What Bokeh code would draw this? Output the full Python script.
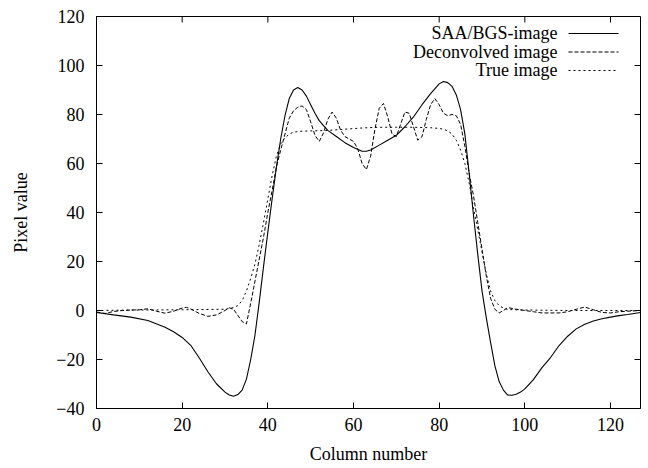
from bokeh.plotting import figure
from bokeh.models import Range1d, FixedTicker, Label
from bokeh.embed import file_html
from bokeh.resources import INLINE

# ---- data ----
saa_x = [0, 4, 8, 12, 16, 18, 20, 22, 24, 26, 28, 30, 31, 32, 33, 34, 35, 36, 37, 38,
         39, 40, 41, 42, 43, 44, 45, 46, 47, 48, 49, 50, 51, 52, 53, 54, 56, 58, 60, 62,
         63, 64, 66, 68, 70, 72, 74, 76, 78, 80, 81, 82, 83, 84, 85, 86, 87, 88, 89, 90,
         91, 92, 93, 94, 95, 96, 97, 98, 99, 100, 102, 104, 106, 108, 110, 112, 114, 116,
         118, 120, 122, 124, 127]
saa_y = [-0.8, -1.8, -2.7, -4.1, -6.8, -8.7, -11, -14.2, -19.4, -25, -29.9, -33.3, -34.5,
         -35, -34.3, -32.5, -28, -20, -10, 3.5, 18, 32, 45.5, 58.5, 70, 79.5, 86.5, 90, 91,
         90, 87.5, 84, 80.5, 77.5, 75.5, 73.5, 71, 68.5, 66.5, 65, 65, 65.5, 67.5, 69.5,
         71.5, 75, 79, 84, 88.5, 92.5, 93.5, 93, 91.5, 88, 82, 72, 56, 39, 23, 8, -3, -13,
         -22.5, -29, -32.5, -34.5, -34.6, -34.2, -33.3, -32, -28.2, -23.3, -19.2, -14.3,
         -10.5, -7.5, -5.6, -4.3, -3.4, -2.7, -2.1, -1.6, -0.8]

dec_x = [0, 2, 4, 6, 8, 10, 12, 14, 16, 18, 20, 21, 22, 24, 26, 28, 30, 31, 32, 33, 34,
         35, 36, 37, 38, 39, 40, 41, 42, 43, 44, 45, 46, 47, 48, 49, 50, 51, 52, 53, 54,
         55, 56, 57, 58, 59, 60, 61, 62, 63, 64, 65, 66, 67, 68, 69, 70, 71, 72, 73, 74,
         75, 76, 77, 78, 79, 80, 81, 82, 83, 84, 85, 86, 87, 88, 89, 90, 91, 92, 93, 94,
         95, 96, 98, 100, 102, 104, 106, 108, 110, 112, 114, 116, 118, 120, 122, 124, 127]
dec_y = [-0.6, -1.2, -0.4, 0, 0.2, 0.3, 0.7, -0.3, -1.1, -0.3, 1.0, 1.3, 0.6, -1.2, -2.4,
         -1.8, 0, 1.1, 0.5, -2, -4.5, -5.5, 3, 12, 21, 30, 40, 49, 58.5, 65.5, 72, 78.5,
         81.5, 83, 83.5, 82, 77, 71.5, 69, 72.5, 78, 81, 78.5, 73.5, 71, 70, 69, 66, 60,
         57.5, 63, 74, 82.5, 84.5, 79, 72, 71, 76, 81, 80.5, 75, 69.5, 71, 78, 84, 86.5,
         84, 80.5, 79.5, 80, 79.5, 76, 67, 56, 47, 36, 25, 14, 5, 0.5, -1.0, 0, 1.2, 0.5,
         0, -0.5, -1, -1, -1, -0.5, 0.5, 1.4, 0.3, -0.8, -1, -0.5, -0.3, 0]

true_x = [0, 10, 20, 30, 32, 33, 34, 35, 36, 37, 38, 39, 40, 41, 42, 43, 44, 45, 46, 48,
          50, 54, 58, 62, 66, 70, 74, 78, 80, 81, 82, 83, 84, 85, 86, 87, 88, 89, 90, 91,
          92, 93, 94, 95, 96, 100, 110, 127]
true_y = [0, 0.2, 0.3, 0.5, 1.2, 2, 4, 8, 13, 19, 27, 36, 45.5, 55, 63, 68, 70.5, 72,
          72.8, 73.2, 73.3, 73.5, 74, 74.5, 74.8, 74.8, 74.8, 74.6, 74.3, 74, 73.3, 72,
          69.5, 65.5, 60, 52, 42, 33, 24, 15, 8, 4, 2, 1, 0.4, 0.2, 0, 0]

series_labels = ["SAA/BGS-image", "Deconvolved image", "True image"]
x_ticks = [0, 20, 40, 60, 80, 100, 120]
y_ticks = [-40, -20, 0, 20, 40, 60, 80, 100, 120]

FONT = "Liberation Serif"
FS = "18px"
DASH = "4 2"
DOT = "2 3"

XMIN, XMAX, YMIN, YMAX = 0, 127, -40, 120
FRAME_W, FRAME_H = 544, 392
p = figure(width=648, height=468, output_backend="svg", toolbar_location=None,
           x_range=Range1d(XMIN, XMAX), y_range=Range1d(YMIN, YMAX),
           min_border_left=96, min_border_right=8, min_border_top=16,
           min_border_bottom=60)
p.grid.visible = False
p.outline_line_color = "black"
p.outline_line_width = 1
p.background_fill_color = "white"
p.border_fill_color = "white"

for ax in p.xaxis:
    ax.ticker = FixedTicker(ticks=x_ticks)
    ax.axis_label = "Column number"
    ax.major_label_standoff = 9
    ax.axis_label_standoff = 10
for ax in p.yaxis:
    ax.ticker = FixedTicker(ticks=y_ticks)
    ax.axis_label = "Pixel value"
    ax.major_label_standoff = 12
    ax.axis_label_standoff = 22
for ax in list(p.xaxis) + list(p.yaxis):
    ax.major_tick_in = 6
    ax.major_tick_out = 0
    ax.minor_tick_line_color = None
    ax.axis_line_color = "black"
    ax.major_tick_line_color = "black"
    ax.major_label_text_font = FONT
    ax.major_label_text_font_size = FS
    ax.major_label_text_color = "black"
    ax.axis_label_text_font = FONT
    ax.axis_label_text_font_size = FS
    ax.axis_label_text_font_style = "normal"
    ax.axis_label_text_color = "black"

# mirrored inward ticks on the top and right borders (6 px long)
tick_dy = 6 / FRAME_H * (YMAX - YMIN)
tick_dx = 6 / FRAME_W * (XMAX - XMIN)
p.segment(x0=x_ticks, y0=[YMAX] * len(x_ticks), x1=x_ticks,
          y1=[YMAX - tick_dy] * len(x_ticks), line_color="black", line_width=1)
p.segment(x0=[XMAX] * len(y_ticks), y0=y_ticks, x1=[XMAX - tick_dx] * len(y_ticks),
          y1=y_ticks, line_color="black", line_width=1)

p.line(saa_x, saa_y, line_color="black", line_width=1.1)
p.line(dec_x, dec_y, line_color="black", line_width=1.0, line_dash=DASH)
p.line(true_x, true_y, line_color="black", line_width=1.0, line_dash=DOT)

# legend (gnuplot style: text right-aligned, sample to the right)
def dx(px):
    return XMIN + (px - 96) / FRAME_W * (XMAX - XMIN)

def dy(py):
    return YMAX - (py - 16) / FRAME_H * (YMAX - YMIN)

rows_py = [32.5, 51.0, 69.5]
styles = [dict(line_dash="solid", line_width=1.1),
          dict(line_dash=DASH, line_width=1.0),
          dict(line_dash=DOT, line_width=1.0)]
for label, py, st in zip(series_labels, rows_py, styles):
    p.add_layout(Label(x=dx(557), y=dy(py), text=label, text_align="right",
                       text_baseline="middle", text_font=FONT, text_font_size=FS,
                       text_color="black"))
    p.line([dx(568), dx(618)], [dy(py + 0.5), dy(py + 0.5)], line_color="black", **st)

open("out.html", "w").write(file_html(p, INLINE))
